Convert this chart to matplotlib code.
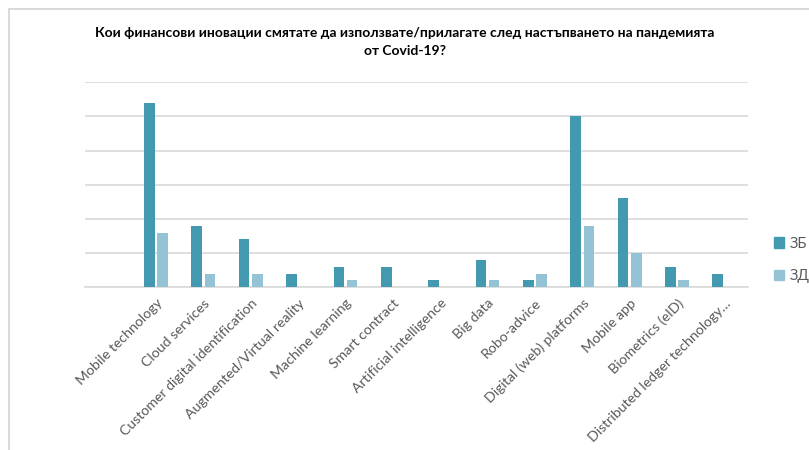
import matplotlib
matplotlib.use("Agg")
import matplotlib.pyplot as plt
import numpy as np
from matplotlib.patches import Rectangle

categories = [
    "Mobile technology", "Cloud services", "Customer digital identification",
    "Augmented/Virtual reality", "Machine learning", "Smart contract",
    "Artificial intelligence", "Big data", "Robo-advice",
    "Digital (web) platforms", "Mobile app", "Biometrics (eID)",
    "Distributed ledger technology…",
]
series_names = ["ЗБ", "ЗД"]
values_zb = [27, 9, 7, 2, 3, 3, 1, 4, 1, 25, 13, 3, 2]
values_zd = [8, 2, 2, 0, 1, 0, 0, 1, 2, 9, 5, 1, 0]

title = ("Кои финансови иновации смятате да използвате/прилагате след настъпването на пандемията\n"
         "от Covid-19?")

color_zb = "#4399b0"
color_zd = "#94c3d5"
grid_color = "#d9d9d9"
label_color = "#595959"

plt.rcParams["font.family"] = ["Lato", "DejaVu Sans"]

fig = plt.figure(figsize=(8.09, 4.5), dpi=100)
fig.patch.set_facecolor("white")

# chart frame
fig.add_artist(Rectangle((8.5 / 809, -0.1), 1.2, 1 - 9.5 / 450 + 0.1,
                         transform=fig.transFigure, fill=False,
                         edgecolor=grid_color, linewidth=1.4))

ax = fig.add_axes([85 / 809, 1 - 287.3 / 450, 663 / 809, 205 / 450])

x = np.arange(len(categories))
bw = 0.225
gap = 0.055
ax.bar(x - (bw + gap) / 2, values_zb, width=bw, color=color_zb, label=series_names[0], zorder=3)
ax.bar(x + (bw + gap) / 2, values_zd, width=bw, color=color_zd, label=series_names[1], zorder=3)

ax.set_xlim(-1.5, len(categories) - 0.5)
ax.set_ylim(0, 30)
ax.set_yticks(np.arange(0, 31, 5))
ax.yaxis.grid(True, color=grid_color, linewidth=1.2, zorder=0)
ax.tick_params(axis="y", left=False, labelleft=False)
ax.tick_params(axis="x", length=0, pad=7)
for s in ["top", "right", "left"]:
    ax.spines[s].set_visible(False)
ax.spines["bottom"].set_color(grid_color)
ax.spines["bottom"].set_linewidth(1.2)

ax.set_xticks(x)
ax.set_xticklabels(categories, rotation=45, ha="right", va="top",
                   rotation_mode="anchor", fontsize=10.2, color=label_color)

fig.text(0.5, 1 - 42 / 450, title, ha="center", va="center", fontsize=10,
         fontweight="bold", color="#000000", linespacing=1.55)

handles = [Rectangle((0, 0), 1, 1, color=color_zb), Rectangle((0, 0), 1, 1, color=color_zd)]
leg = fig.legend(handles, series_names, loc="center left",
                 bbox_to_anchor=(774 / 809, 1 - 260 / 450), frameon=False,
                 fontsize=10.5, handlelength=0.7, handleheight=0.7,
                 handletextpad=0.4, labelspacing=1.3, borderaxespad=0,
                 borderpad=0)
for t in leg.get_texts():
    t.set_color(label_color)

fig.savefig("out.png", dpi=100, facecolor="white")
